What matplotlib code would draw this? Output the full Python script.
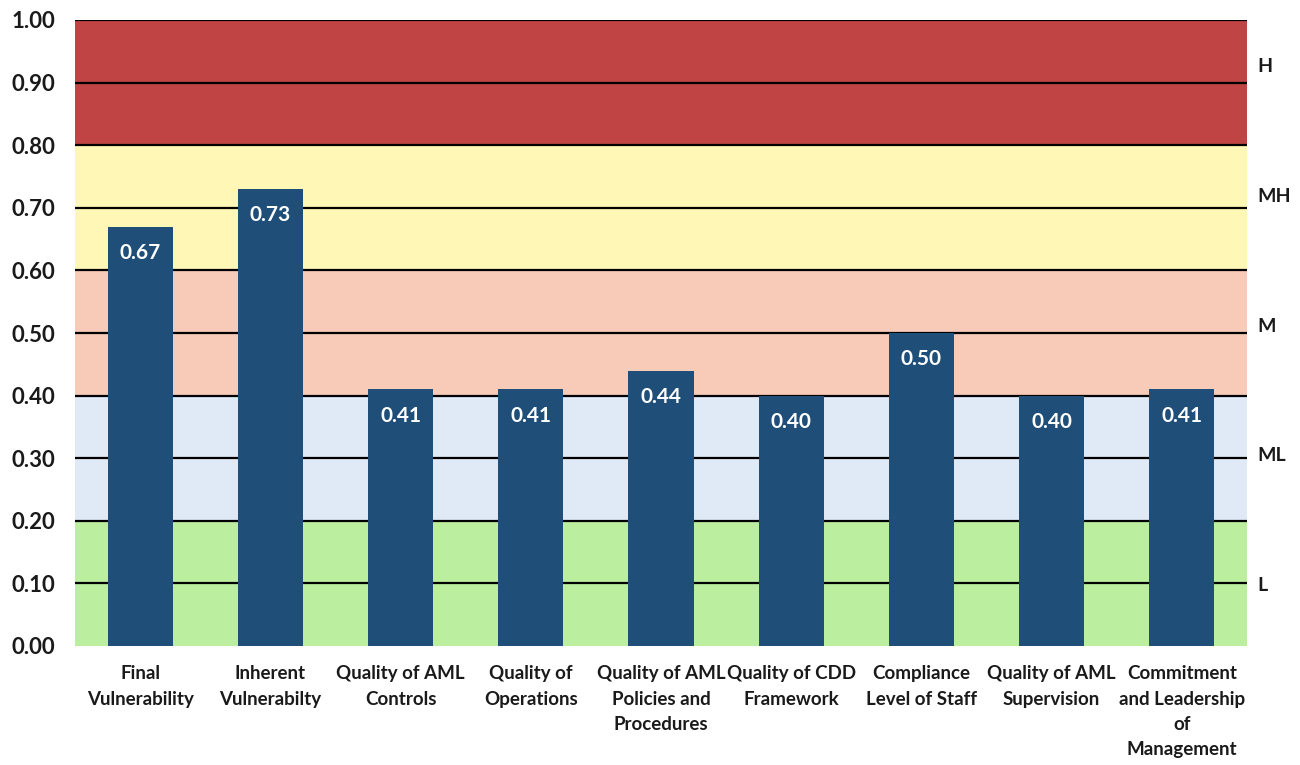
import matplotlib
matplotlib.use("Agg")
import matplotlib.pyplot as plt

plt.rcParams['font.family'] = ['Lato', 'DejaVu Sans']

categories = [
    "Final\nVulnerability",
    "Inherent\nVulnerabilty",
    "Quality of AML\nControls",
    "Quality of\nOperations",
    "Quality of AML\nPolicies and\nProcedures",
    "Quality of CDD\nFramework",
    "Compliance\nLevel of Staff",
    "Quality of AML\nSupervision",
    "Commitment\nand Leadership\nof\nManagement",
]
values = [0.67, 0.73, 0.41, 0.41, 0.44, 0.40, 0.50, 0.40, 0.41]

band_edges = [0.0, 0.2, 0.4, 0.6, 0.8, 1.0]
band_labels = ["L", "ML", "M", "MH", "H"]
band_colors = ["#BBEE9E", "#E0EAF6", "#F8CAB8", "#FFF7B6", "#C04444"]
bar_color = "#1F4E79"

fig = plt.figure(figsize=(13, 7.65), dpi=100)
ax = fig.add_axes([75/1300, 1 - 646/765, (1247-75)/1300, (646-20)/765])

# Risk bands
for lo, hi, c in zip(band_edges[:-1], band_edges[1:], band_colors):
    ax.axhspan(lo, hi, color=c, zorder=0, lw=0)

# Gridlines
for y in [i/10 for i in range(1, 11)]:
    ax.axhline(y, color="black", lw=1.6, zorder=1)

x = list(range(len(categories)))
bars = ax.bar(x, values, width=0.5, color=bar_color, zorder=2)

for xi, v in zip(x, values):
    ax.annotate(f"{v:.2f}", xy=(xi, v), xytext=(0, -19), textcoords="offset points",
                ha="center", va="center", color="white", fontsize=15, fontweight="bold", zorder=3)

# Band labels on the right, on their own evenly spaced scale
for i, lab in enumerate(band_labels):
    ax.text(1.009, 0.097 + i * 0.207, lab, transform=ax.get_yaxis_transform(),
            ha="left", va="center", fontsize=14, fontweight="bold", color="#1a1a1a")

ax.set_xlim(-0.5, len(categories) - 0.5)
ax.set_ylim(0, 1.0)
ax.set_yticks([i/10 for i in range(0, 11)])
ax.set_yticklabels([f"{i/10:.2f}" for i in range(0, 11)], fontsize=16, fontweight="bold", color="#1a1a1a")
ax.set_xticks(x)
ax.set_xticklabels(categories, fontsize=13.5, fontweight="bold", color="#1a1a1a", linespacing=1.58)
ax.tick_params(axis="both", length=0)
ax.tick_params(axis="x", pad=14)
ax.tick_params(axis="y", pad=14)
for s in ax.spines.values():
    s.set_visible(False)

fig.savefig("out.png", dpi=100, facecolor="white")
